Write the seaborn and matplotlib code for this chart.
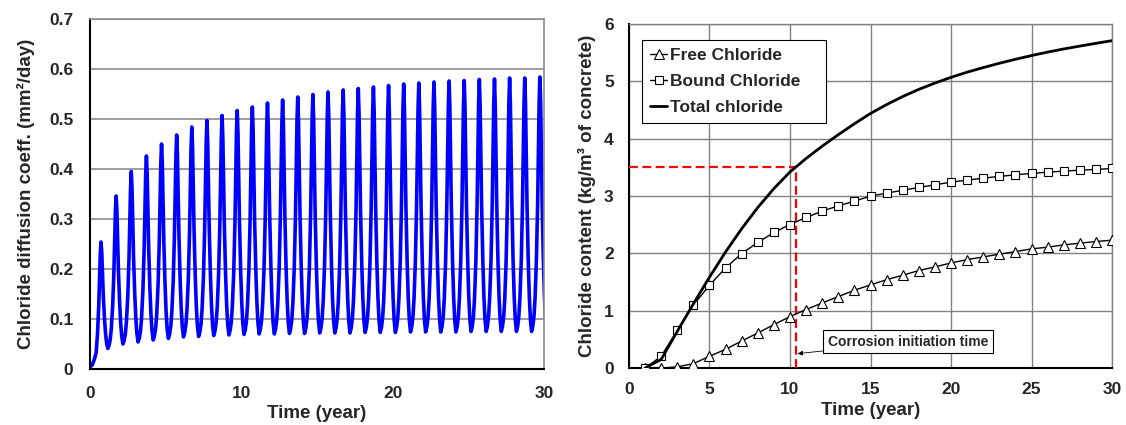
# Chlorid-Diffusion und Chloridgehalt ueber die Zeit
import numpy as np
import pandas as pd
import seaborn as sns
import matplotlib.pyplot as plt

# --- Daten links: Diffusionskoeffizient (Spitzen und Taeler je Jahr) ---
first_peak_time = 0.73
peak_values = [0.254, 0.346, 0.395, 0.426, 0.450, 0.468, 0.484, 0.497, 0.507, 0.517,
               0.524, 0.532, 0.538, 0.544, 0.549, 0.554, 0.558, 0.561, 0.564, 0.567,
               0.570, 0.572, 0.574, 0.576, 0.577, 0.579, 0.580, 0.582, 0.582, 0.584]
trough_values = [0.041, 0.050, 0.054, 0.058, 0.061, 0.064, 0.065, 0.067, 0.068, 0.069,
                 0.070, 0.070, 0.071, 0.071, 0.072, 0.072, 0.072, 0.073, 0.073, 0.073,
                 0.074, 0.074, 0.074, 0.074, 0.075, 0.075, 0.075, 0.075, 0.075, 0.076]
start_times = [0.0, 0.15, 0.30]
start_values = [0.004, 0.008, 0.020]
cycle_phase = [0.0, 0.05, 0.09, 0.15, 0.23, 0.30, 0.37, 0.45, 0.53, 0.61, 0.68, 0.77, 0.85, 0.91, 0.95]
cycle_level = [1.0, 0.90, 0.74, 0.50, 0.28, 0.14, 0.05, 0.0, 0.02, 0.06, 0.13, 0.28, 0.50, 0.74, 0.90]
trough_phase = 0.45

# --- Daten rechts: Chloridgehalt ---
years = list(range(1, 31))
free_chloride = [0.0, 0.0, 0.02, 0.077, 0.204, 0.326, 0.471, 0.611, 0.757, 0.897,
                 1.02, 1.135, 1.246, 1.356, 1.45, 1.54, 1.618, 1.70, 1.763, 1.833,
                 1.89, 1.938, 1.985, 2.03, 2.078, 2.107, 2.148, 2.177, 2.206, 2.23]
bound_chloride = [0.0, 0.204, 0.658, 1.095, 1.444, 1.746, 1.997, 2.19, 2.364, 2.503,
                  2.626, 2.736, 2.828, 2.91, 2.998, 3.05, 3.10, 3.149, 3.195, 3.242,
                  3.277, 3.312, 3.341, 3.37, 3.393, 3.416, 3.434, 3.451, 3.463, 3.48]
total_chloride = [0.0, 0.15, 0.64, 1.12, 1.585, 2.025, 2.43, 2.80, 3.13, 3.42,
                  3.655, 3.87, 4.07, 4.26, 4.44, 4.595, 4.735, 4.86, 4.97, 5.07,
                  5.16, 5.24, 5.315, 5.385, 5.45, 5.51, 5.565, 5.615, 5.663, 5.71]
threshold = 3.5
initiation_time = 10.4

# Kurve links zusammensetzen
t_list = list(start_times)
d_list = list(start_values)
for ph, lv in zip(cycle_phase, cycle_level):
    if 0.68 <= ph < 1.0:
        t_list.append(first_peak_time - 1 + ph)
        d_list.append(lv * peak_values[0])
for i, (pk, tr) in enumerate(zip(peak_values, trough_values)):
    t0 = first_peak_time + i
    for ph, lv in zip(cycle_phase, cycle_level):
        if ph <= trough_phase:
            top = pk
        elif i + 1 < len(peak_values):
            top = peak_values[i + 1]
        else:
            continue
        t_list.append(t0 + ph)
        d_list.append(tr + lv * (top - tr))
df_diff = pd.DataFrame({'Zeit': t_list, 'D': d_list})

df_cl = pd.DataFrame({'Jahr': years, 'frei': free_chloride,
                      'gebunden': bound_chloride, 'gesamt': total_chloride})

sns.set_style("white")
plt.rcParams['font.family'] = ['Liberation Sans', 'DejaVu Sans']
plt.rcParams['font.weight'] = 'bold'

fig = plt.figure(figsize=(11.26, 4.25), dpi=100)
ax1 = fig.add_axes([0.0799, 0.1318, 0.4032, 0.8235])
ax2 = fig.add_axes([0.5586, 0.1341, 0.4290, 0.8094])

# linkes Diagramm
sns.lineplot(data=df_diff, x='Zeit', y='D', ax=ax1, color='#0000ff', linewidth=2.6,
             sort=False, estimator=None)
ax1.set_xlim(0, 30)
ax1.set_ylim(0, 0.7)
ax1.set_xticks([0, 10, 20, 30])
ax1.set_yticks(np.arange(0, 0.71, 0.1))
ax1.set_yticklabels(['0', '0.1', '0.2', '0.3', '0.4', '0.5', '0.6', '0.7'])
ax1.yaxis.grid(True, color='#8c8c8c', linewidth=1.2)
ax1.set_axisbelow(True)
ax1.tick_params(axis='x', direction='in', length=4, width=1, pad=12, labelsize=12.5)
ax1.tick_params(axis='y', length=0, pad=12, labelsize=12.5)
ax1.set_xlabel('Time (year)', fontsize=13.5, fontweight='bold', labelpad=3)
ax1.set_ylabel('Chloride diffusion coeff. (mm²/day)', fontsize=13.5, fontweight='bold', labelpad=10)
for s in ['left', 'bottom']:
    ax1.spines[s].set_color('black')
    ax1.spines[s].set_linewidth(1.5)
for s in ['top', 'right']:
    ax1.spines[s].set_color('#8c8c8c')
    ax1.spines[s].set_linewidth(1.2)

# rechtes Diagramm
ax2.grid(True, color='#808080', linewidth=1.0)
ax2.set_axisbelow(True)
ax2.plot([0, initiation_time], [threshold, threshold], color='red', linewidth=1.6,
         linestyle=(0, (4, 2)), zorder=3)
ax2.plot([initiation_time, initiation_time], [0, threshold], color='red', linewidth=1.6,
         linestyle=(0, (4, 2)), zorder=3)
sns.lineplot(data=df_cl, x='Jahr', y='frei', ax=ax2, color='black', linewidth=1.0,
             marker='^', markersize=7, markerfacecolor='white', markeredgecolor='black',
             markeredgewidth=0.8, label='Free Chloride', zorder=4)
sns.lineplot(data=df_cl, x='Jahr', y='gebunden', ax=ax2, color='black', linewidth=1.0,
             marker='s', markersize=6, markerfacecolor='white', markeredgecolor='black',
             markeredgewidth=0.8, label='Bound Chloride', zorder=4)
sns.lineplot(data=df_cl, x='Jahr', y='gesamt', ax=ax2, color='black', linewidth=2.0,
             label='Total chloride', zorder=4)
ax2.set_xlim(0, 30)
ax2.set_ylim(0, 6)
ax2.set_xticks(range(0, 31, 5))
ax2.set_yticks(range(0, 7))
ax2.tick_params(axis='both', length=0, labelsize=12.5)
ax2.tick_params(axis='x', pad=10)
ax2.tick_params(axis='y', pad=11)
ax2.set_xlabel('Time (year)', fontsize=13.5, fontweight='bold', labelpad=4)
ax2.set_ylabel('Chloride content (kg/m³ of concrete)', fontsize=13.5, fontweight='bold', labelpad=6)
for s in ['left', 'bottom']:
    ax2.spines[s].set_color('black')
    ax2.spines[s].set_linewidth(1.5)
for s in ['top', 'right']:
    ax2.spines[s].set_color('#808080')
    ax2.spines[s].set_linewidth(1.0)

leg = ax2.legend(loc='upper left', bbox_to_anchor=(0.027, 0.953, 0.381, 0), mode='expand',
                 fontsize=12.5, handlelength=1.0, handletextpad=0.15, labelspacing=0.62,
                 borderaxespad=0, fancybox=False, framealpha=1, edgecolor='black',
                 borderpad=0.45)
leg.get_frame().set_linewidth(0.8)
for txt in leg.get_texts():
    txt.set_fontweight('bold')

ax2.annotate('Corrosion initiation time', xy=(10.48, 0.25), xytext=(17.35, 0.46),
             ha='center', va='center', fontsize=10, fontweight='bold',
             bbox=dict(boxstyle='square,pad=0.35', fc='white', ec='black', lw=0.8),
             arrowprops=dict(arrowstyle='-|>', color='black', lw=0.6, mutation_scale=7,
                             shrinkA=0, shrinkB=0), zorder=5)

for ax in [ax1, ax2]:
    for lab in ax.get_xticklabels() + ax.get_yticklabels():
        lab.set_fontweight('bold')

fig.savefig('out.png', dpi=100)
